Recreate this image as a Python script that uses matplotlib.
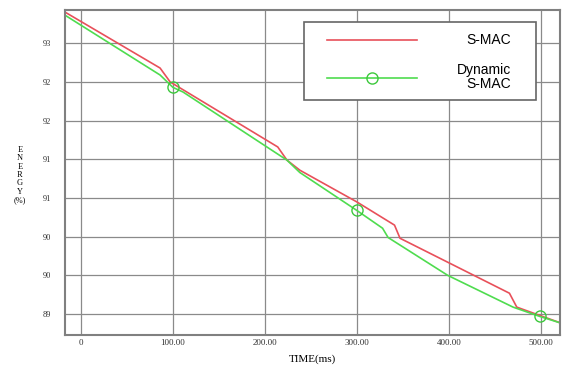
import matplotlib
matplotlib.use("Agg")
import matplotlib.pyplot as plt
from matplotlib.patches import Rectangle
from matplotlib.lines import Line2D

# S-MAC (red) energy curve
smac_t = [-17, 86, 97, 214, 224, 238, 300, 341, 347, 466, 474, 523]
smac_e = [93.40, 92.68, 92.50, 91.66, 91.49, 91.36, 90.95, 90.65, 90.48, 89.77, 89.59, 89.38]

# Dynamic S-MAC (green) energy curve
dyn_t = [-17, 86, 100, 111, 224, 238, 300, 328, 334, 399, 470, 499, 523]
dyn_e = [93.36, 92.59, 92.43, 92.37, 91.49, 91.33, 90.84, 90.61, 90.49, 90.00, 89.59, 89.47, 89.38]
dyn_marks = [2, 6, 11]  # circles at 100, 300, 500

x_ticks = [0, 100, 200, 300, 400, 500]
x_labels = ["0", "100.00", "200.00", "300.00", "400.00", "500.00"]
y_ticks = [93.0, 92.5, 92.0, 91.5, 91.0, 90.5, 90.0, 89.5]
y_labels = ["93", "92", "92", "91", "91", "90", "90", "89"]

RED = "#e8505a"
GREEN = "#4fdc4f"

W, H = 562, 370
fig = plt.figure(figsize=(W / 100, H / 100), dpi=100)
ax = fig.add_axes([65 / W, 35 / H, 495 / W, 325 / H])

ax.plot(smac_t, smac_e, color=RED, lw=1.2)
ax.plot(dyn_t, dyn_e, color=GREEN, lw=1.2, marker="o", ms=8,
        mfc="none", mec="#3cc83c", mew=1.0, markevery=dyn_marks)

ax.set_xlim(-17.4, 521)
ax.set_ylim(89.23, 93.43)
ax.set_xticks(x_ticks)
ax.set_xticklabels(x_labels, family="Liberation Serif", fontsize=6.5)
ax.set_yticks(y_ticks)
ax.set_yticklabels(y_labels, family="Liberation Serif", fontsize=6)
ax.tick_params(axis="y", length=0, pad=10, colors="#333333")
ax.tick_params(axis="x", length=0, pad=3, colors="#333333")

ax.grid(True, color="#8a8a8a", lw=0.9)
ax.set_axisbelow(True)
for sp in ax.spines.values():
    sp.set_color("#808080")
    sp.set_linewidth(1.5)

ax.set_xlabel("TIME(ms)", family="Liberation Serif", fontsize=8, labelpad=5)
fig.text(20 / W, 1 - 175 / H, "E\nN\nE\nR\nG\nY\n(%)", family="Liberation Serif",
         fontsize=6, ha="center", va="center", linespacing=1.05)


# hand-made legend box, positions in pixels of the figure
def fx(px):
    return (px - 65) / 495


def fy(py):
    return (335 - py) / 325


tr = ax.transAxes
ax.add_patch(Rectangle((fx(304), fy(100)), fx(536) - fx(304), fy(22) - fy(100),
                       transform=tr, facecolor="white", edgecolor="#666666",
                       lw=1.2, zorder=5))
ax.add_line(Line2D([fx(327), fx(417)], [fy(40), fy(40)], transform=tr,
                   color=RED, lw=1.2, zorder=6))
ax.add_line(Line2D([fx(327), fx(417)], [fy(78), fy(78)], transform=tr,
                   color=GREEN, lw=1.2, zorder=6))
ax.add_line(Line2D([fx(372)], [fy(78)], transform=tr, marker="o", ms=8,
                   mfc="none", mec="#3cc83c", mew=1.0, zorder=6))
lfont = dict(family="Liberation Sans", fontsize=10, transform=tr, zorder=7,
             ha="right", va="center", multialignment="right")
ax.text(fx(511), fy(40), "S-MAC", **lfont)
ax.text(fx(511), fy(77), "Dynamic\nS-MAC", linespacing=1.0, **lfont)

fig.savefig("out.png", dpi=100)
